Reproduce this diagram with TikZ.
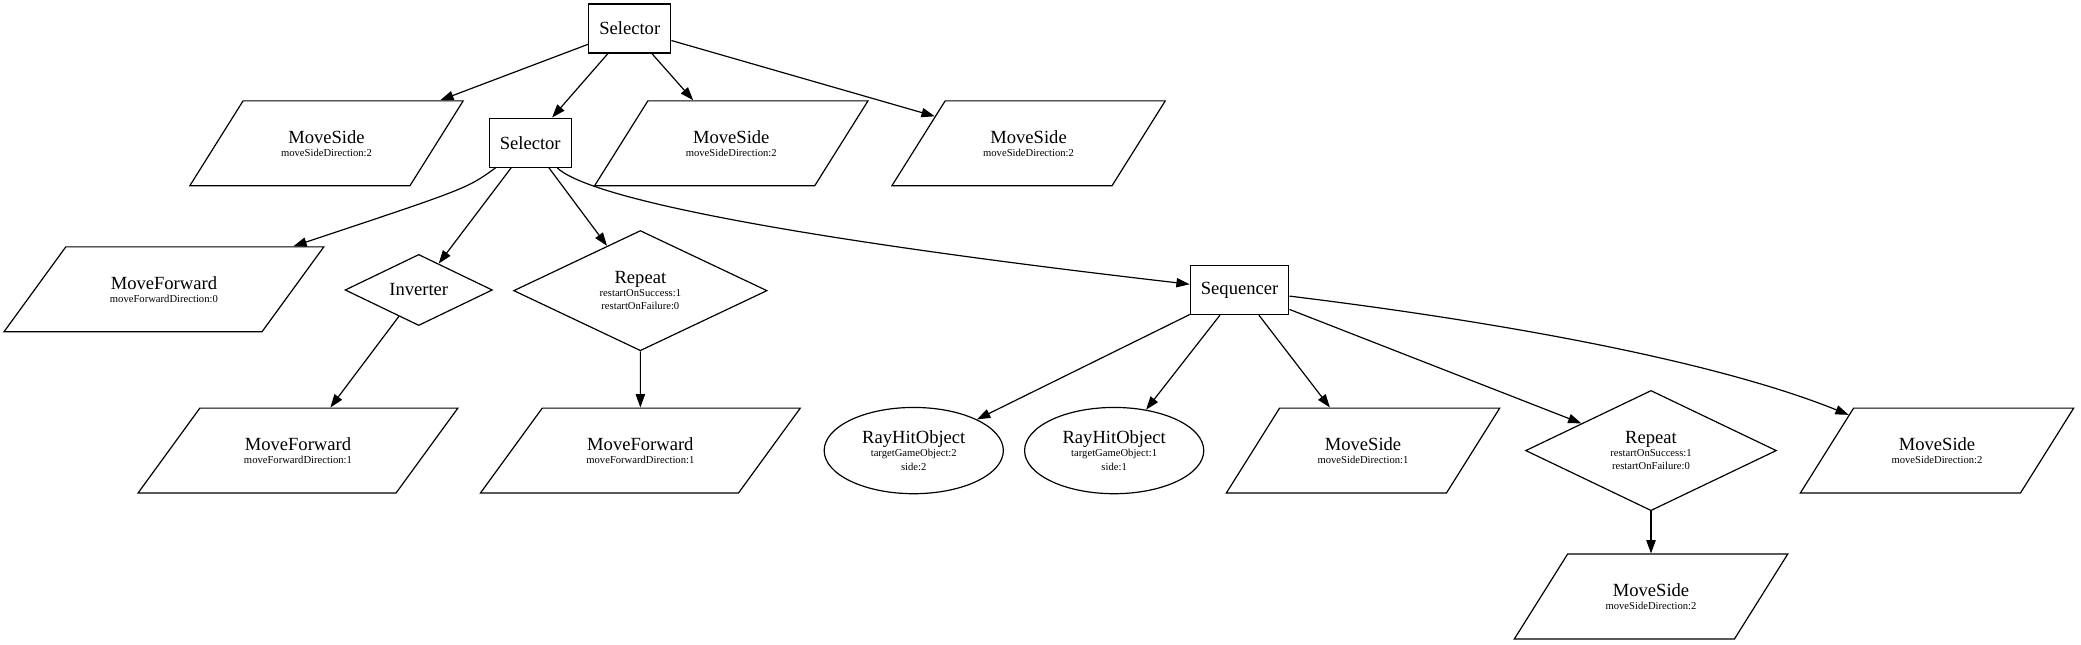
\documentclass[tikz,border=0pt]{standalone}
\usepackage{fontspec}
\setmainfont{Liberation Serif}
\usepackage{tikz}
\usetikzlibrary{arrows.meta}
\usetikzlibrary{shapes.geometric}
\newcommand{\argtxt}[1]{{\fontsize{8}{10}\selectfont #1}}
\tikzset{
selbox/.style={shape=rectangle, draw, inner xsep=8pt, minimum height=37pt},
actbox/.style={shape=trapezium, draw, trapezium left angle=57, trapezium right angle=123,
  trapezium stretches body, inner xsep=0pt, inner ysep=21pt, minimum height=64pt, minimum width=#1},
actbox/.default=206pt,
fwdbox/.style={actbox=241pt, trapezium left angle=53, trapezium right angle=127},
decobox/.style 2 args={shape=diamond, draw, inner sep=0pt, minimum width=#1, minimum height=#2},
condbox/.style={shape=ellipse, draw, inner sep=0pt, minimum width=135pt, minimum height=65pt},
edge/.style={-{Triangle[length=10pt,width=7pt]}, line width=0.9pt}}

\begin{document}
\begin{tikzpicture}[x=1pt, y=-1pt, font=\fontsize{14}{10}\selectfont, align=center, line width=0.9pt]
    \useasboundingbox (0,0) rectangle (1568,486);

                \node[selbox] (A) at (474.5,21.5) {Selector};
                \node[actbox] (B) at (246,108) {MoveSide\\\argtxt{moveSideDirection:2}};
                \node[selbox] (C) at (399.5,107.5) {Selector};
                \node[actbox] (D) at (551,108) {MoveSide\\\argtxt{moveSideDirection:2}};
                \node[actbox] (E) at (775,108) {MoveSide\\\argtxt{moveSideDirection:2}};

                \node[fwdbox] (F) at (123.5,218) {MoveForward\\\argtxt{moveForwardDirection:0}};
                \node[decobox={111pt}{37pt}] (G) at (315.5,218.5) {Inverter};
                \node[decobox={191pt}{86pt}] (H) at (482.5,219) {Repeat\\\argtxt{restartOnSuccess:1}\\\argtxt{restartOnFailure:0}};
                \node[selbox] (I) at (934,218.5) {Sequencer};

                \node[fwdbox] (J) at (224.5,339.5) {MoveForward\\\argtxt{moveForwardDirection:1}};
                \node[fwdbox] (K) at (482.5,339.5) {MoveForward\\\argtxt{moveForwardDirection:1}};
                \node[condbox] (L) at (688.5,339.5) {RayHitObject\\\argtxt{targetGameObject:2}\\\argtxt{side:2}};
                \node[condbox] (M) at (839.5,339.5) {RayHitObject\\\argtxt{targetGameObject:1}\\\argtxt{side:1}};
                \node[actbox] (N) at (1027,339.5) {MoveSide\\\argtxt{moveSideDirection:1}};
                \node[decobox={189pt}{86pt}] (O) at (1244,339.5) {Repeat\\\argtxt{restartOnSuccess:1}\\\argtxt{restartOnFailure:0}};
                \node[actbox] (P) at (1459.5,339.5) {MoveSide\\\argtxt{moveSideDirection:2}};

                \node[actbox] (Q) at (1244,449.5) {MoveSide\\\argtxt{moveSideDirection:2}};

                \draw[edge] (A) -- (B);
                \draw[edge] (A) -- (C);
                \draw[edge] (A) -- (D);
                \draw[edge] (A) -- (E);
                \draw[edge] (C) .. controls (352,142) .. (F);
                \draw[edge] (C) -- (G);
                \draw[edge] (C) -- (H);
                \draw[edge] (C) .. controls (445,150) and (600,180) .. (I);
                \draw[edge] (G) -- (J);
                \draw[edge] (H) -- (K);
                \draw[edge] (I) -- (L);
                \draw[edge] (I) -- (M);
                \draw[edge] (I) -- (N);
                \draw[edge] (I) -- (O);
                \draw[edge] (I) .. controls (1150,245) and (1300,275) .. (P);
                \draw[edge] (O) -- (Q);

            \end{tikzpicture}
\end{document}
